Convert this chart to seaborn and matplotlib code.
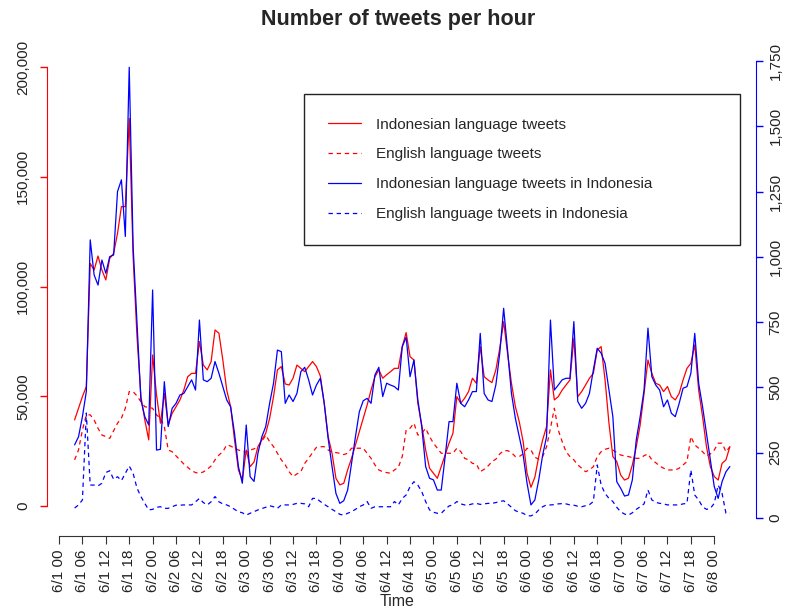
import numpy as np
import pandas as pd
import matplotlib
matplotlib.use("Agg")
import matplotlib.pyplot as plt
import seaborn as sns

# ── data (hourly, hours counted from 6/1 00) ─────────────────
START_HOUR = 4
END_HOUR = 172

# Indonesian language tweets (left axis)
ID_TWEETS = [
    39200, 44500, 49800, 54400, 110500, 107500, 113900, 107500, 103000, 112800,
    115100, 124200, 136400, 136400, 176600, 113600, 77100, 49800, 39200, 30100,
    68800, 50600, 37700, 51300, 36900, 42200, 45200, 48300, 52800, 58900,
    60400, 60400, 74900, 64200, 62000, 65800, 80200, 78700, 66500, 52800,
    45200, 30100, 16400, 11800, 25500, 17900, 20000, 27000, 30100, 33100,
    39900, 49800, 62000, 63500, 55600, 55100, 58200, 64200, 62700, 61200,
    63500, 65800, 63500, 59200, 46800, 31600, 24000, 12600, 9600, 10300,
    16400, 21700, 27800, 33900, 39900, 46000, 52800, 58900, 62000, 58200,
    59800, 61200, 62700, 62700, 72600, 79000, 68000, 66500, 46800, 36900,
    25500, 17200, 14900, 12600, 17900, 23200, 28600, 33100, 49800, 46800,
    49100, 52100, 58200, 55900, 72600, 58900, 57400, 56200, 62000, 71800,
    84000, 69500, 55900, 45300, 38400, 29300, 14900, 8500, 13100, 22500,
    30100, 36100, 62000, 48300, 49800, 52800, 55100, 57400, 76400, 49800,
    52100, 55100, 58200, 60400, 71100, 72600, 57400, 37700, 22500, 20200,
    14100, 11800, 12600, 18700, 27000, 36900, 51300, 66500, 60400, 55900,
    55100, 52100, 54400, 49800, 48300, 51300, 57400, 62700, 65000, 73400,
    52800, 40700, 27000, 17900, 13400, 11800, 19400, 21000, 27000,
]

# English language tweets (left axis)
EN_TWEETS = [
    21000, 25500, 34600, 41500, 41500, 39200, 35400, 32300, 31600, 30800,
    34300, 37700, 40000, 44500, 52100, 52100, 50100, 47500, 45200, 44900,
    44500, 41500, 40000, 36100, 25500, 24700, 22800, 21000, 19100, 17600,
    16100, 15200, 14900, 15500, 16700, 18200, 21000, 23200, 24700, 27800,
    27300, 26300, 25500, 24900, 24500, 25500, 26000, 27000, 29300, 32300,
    29300, 27000, 24000, 21000, 18700, 15600, 13400, 14600, 15600, 19400,
    21700, 24300, 26700, 27000, 27000, 25500, 24600, 24300, 24000, 23400,
    24000, 26300, 26300, 26300, 26300, 24000, 21700, 18700, 16400, 15600,
    15200, 14900, 16400, 17600, 22500, 34600, 35400, 37700, 32300, 33100,
    35400, 31600, 28600, 26300, 24000, 24000, 24000, 24000, 26300, 24800,
    21700, 21000, 19400, 19100, 15600, 16700, 18200, 20200, 21300, 23700,
    25200, 25200, 24300, 22500, 22500, 23700, 26300, 25500, 22200, 21300,
    22500, 27000, 35400, 44500, 34600, 29300, 24700, 22500, 21000, 18700,
    17200, 15600, 16400, 17900, 22500, 24700, 25800, 26300, 25500, 24300,
    23200, 22800, 22500, 22000, 21700, 21700, 22900, 23700, 21000, 19700,
    18200, 17200, 16400, 16400, 16400, 17200, 18700, 20200, 31600, 27800,
    26300, 24700, 22800, 23700, 25500, 28600, 28600, 24700, 27000,
]

# Indonesian language tweets in Indonesia (right axis)
ID_TWEETS_IDN = [
    280, 311, 388, 484, 1065, 931, 892, 988, 937, 1001,
    1007, 1250, 1295, 1078, 1726, 1039, 746, 452, 388, 356,
    873, 260, 263, 522, 350, 420, 439, 471, 477, 503,
    529, 490, 758, 529, 522, 535, 599, 554, 503, 452,
    426, 324, 197, 133, 356, 158, 140, 248, 311, 350,
    439, 516, 643, 637, 439, 471, 446, 477, 560, 577,
    529, 471, 509, 535, 439, 305, 197, 94, 56, 66,
    107, 209, 311, 407, 449, 458, 439, 548, 577, 465,
    516, 509, 503, 490, 656, 692, 541, 605, 452, 350,
    197, 152, 146, 107, 107, 235, 369, 369, 516, 439,
    426, 452, 484, 484, 707, 477, 452, 446, 509, 631,
    803, 643, 477, 382, 311, 241, 133, 50, 69, 146,
    241, 311, 758, 490, 509, 529, 535, 535, 752, 446,
    420, 439, 477, 567, 650, 631, 592, 490, 388, 139,
    114, 84, 88, 146, 299, 388, 490, 727, 541, 509,
    490, 426, 452, 401, 388, 439, 497, 503, 554, 707,
    516, 426, 324, 222, 120, 75, 139, 177, 197,
]

# English language tweets in Indonesia (right axis)
EN_TWEETS_IDN = [
    38, 50, 69, 402, 126, 126, 123, 133, 174, 181,
    148, 158, 143, 171, 199, 171, 114, 82, 56, 31,
    33, 41, 43, 37, 37, 43, 49, 49, 50, 50,
    50, 62, 75, 59, 50, 62, 82, 62, 54, 50,
    43, 33, 24, 20, 11, 18, 24, 31, 36, 41,
    47, 43, 37, 50, 50, 50, 52, 56, 56, 54,
    43, 75, 75, 63, 52, 43, 33, 24, 14, 11,
    18, 24, 33, 43, 50, 63, 37, 43, 43, 43,
    43, 43, 63, 50, 75, 88, 120, 139, 126, 101,
    63, 31, 22, 18, 18, 33, 46, 50, 63, 54,
    50, 50, 54, 56, 52, 54, 56, 56, 59, 63,
    66, 54, 41, 28, 22, 18, 9, 8, 15, 31,
    43, 50, 50, 51, 54, 55, 54, 50, 49, 45,
    43, 47, 51, 63, 203, 126, 94, 75, 63, 41,
    24, 15, 11, 20, 33, 43, 54, 107, 69, 60,
    56, 54, 50, 50, 50, 50, 54, 56, 184, 88,
    69, 43, 33, 37, 56, 126, 94, 18, 18,
]

X_TICKS = [0, 6, 12, 18, 24, 30, 36, 42, 48, 54, 60, 66, 72, 78, 84, 90,
           96, 102, 108, 114, 120, 126, 132, 138, 144, 150, 156, 162, 168]
X_LABELS = ["6/1 00", "6/1 06", "6/1 12", "6/1 18", "6/2 00", "6/2 06",
            "6/2 12", "6/2 18", "6/3 00", "6/3 06", "6/3 12", "6/3 18",
            "6/4 00", "6/4 06", "6/4 12", "6/4 18", "6/5 00", "6/5 06",
            "6/5 12", "6/5 18", "6/6 00", "6/6 06", "6/6 12", "6/6 18",
            "6/7 00", "6/7 06", "6/7 12", "6/7 18", "6/8 00"]

LEFT_TICKS = [0, 50000, 100000, 150000, 200000]
LEFT_LABELS = ["0", "50,000", "100,000", "150,000", "200,000"]
RIGHT_TICKS = [0, 250, 500, 750, 1000, 1250, 1500, 1750]
RIGHT_LABELS = ["0", "250", "500", "750", "1,000", "1,250", "1,500", "1,750"]

SERIES_NAMES = ["Indonesian language tweets", "English language tweets",
                "Indonesian language tweets in Indonesia",
                "English language tweets in Indonesia"]

hours = np.arange(START_HOUR, END_HOUR + 1)
df = pd.DataFrame({"hour": hours, "id": ID_TWEETS, "en": EN_TWEETS,
                   "id_idn": ID_TWEETS_IDN, "en_idn": EN_TWEETS_IDN})

# ── style ────────────────────────────────────────────────────
sns.set_style("white")
plt.rcParams['font.family'] = ['Liberation Sans', 'DejaVu Sans']

RED = '#ff0000'
BLUE = '#0000ff'
DASH = (0, (3.5, 3))
LW = 0.9

fig = plt.figure(figsize=(7.86, 6.09), dpi=100)
ax = fig.add_axes([47/786, 1-536/609, (756-47)/786, (536-55)/609])
ax.patch.set_alpha(0)
ax2 = ax.twinx()

sns.lineplot(data=df, x="hour", y="id", ax=ax, color=RED, linewidth=LW,
             label=SERIES_NAMES[0], legend=False)
sns.lineplot(data=df, x="hour", y="en", ax=ax, color=RED, linewidth=LW,
             linestyle=DASH, label=SERIES_NAMES[1], legend=False)
sns.lineplot(data=df, x="hour", y="id_idn", ax=ax2, color=BLUE, linewidth=LW,
             label=SERIES_NAMES[2], legend=False)
sns.lineplot(data=df, x="hour", y="en_idn", ax=ax2, color=BLUE, linewidth=LW,
             linestyle=DASH, label=SERIES_NAMES[3], legend=False)

# axis limits chosen so both scales sit where the original R plot put them
ax.set_xlim(-3.08, 178.7)
ax.set_ylim(-13700, 205500)
ax2.set_ylim(-69, 1773)

# left axis (red)
for s in ['top', 'right']:
    ax.spines[s].set_visible(False)
ax.spines['left'].set_color(RED)
ax.spines['left'].set_bounds(0, 200000)
ax.spines['bottom'].set_color('#333333')
ax.spines['bottom'].set_bounds(0, 168)
ax.set_yticks(LEFT_TICKS)
ax.set_yticklabels(LEFT_LABELS, rotation=90, va='center', fontsize=11,
                   color='#222222')
ax.tick_params(axis='y', left=True, colors=RED, length=5, width=1, pad=7,
               labelcolor='#222222')
ax.set_xticks(X_TICKS)
ax.set_xticklabels(X_LABELS, rotation=90, fontsize=11, color='#222222')
ax.tick_params(axis='x', bottom=True, colors='#333333', length=6, width=0.8,
               pad=4, labelcolor='#222222')
ax.set_xlabel('')
ax.set_ylabel('')

# right axis (blue)
for s in ['top', 'left', 'bottom']:
    ax2.spines[s].set_visible(False)
ax2.spines['right'].set_color(BLUE)
ax2.spines['right'].set_bounds(0, 1750)
ax2.set_yticks(RIGHT_TICKS)
ax2.set_yticklabels(RIGHT_LABELS, rotation=90, va='center', fontsize=11,
                    color='#222222')
ax2.tick_params(axis='y', right=True, colors=BLUE, length=5, width=1, pad=4,
                labelcolor='#222222')
ax2.set_ylabel('')

for a in (ax, ax2):
    a.grid(False)

# legend (box like base R)
h1, l1 = ax.get_legend_handles_labels()
h2, l2 = ax2.get_legend_handles_labels()
leg = fig.legend(h1 + h2, l1 + l2, loc='upper left',
                 bbox_to_anchor=(304/786, 1-240/609, 436/786, 146/609),
                 bbox_transform=fig.transFigure, mode='expand',
                 fontsize=11, frameon=True, fancybox=False,
                 edgecolor='#222222', framealpha=1, borderaxespad=0,
                 borderpad=1.55, labelspacing=1.03, handlelength=2.2,
                 handletextpad=0.95)
leg.get_frame().set_linewidth(1.0)

fig.text(398/786, 1-19/609, 'Number of tweets per hour', ha='center',
         va='center', fontsize=15.5, fontweight='bold')
fig.text(397/786, 1-601/609, 'Time', ha='center', va='center', fontsize=11.5)

fig.savefig('out.png', dpi=100)
